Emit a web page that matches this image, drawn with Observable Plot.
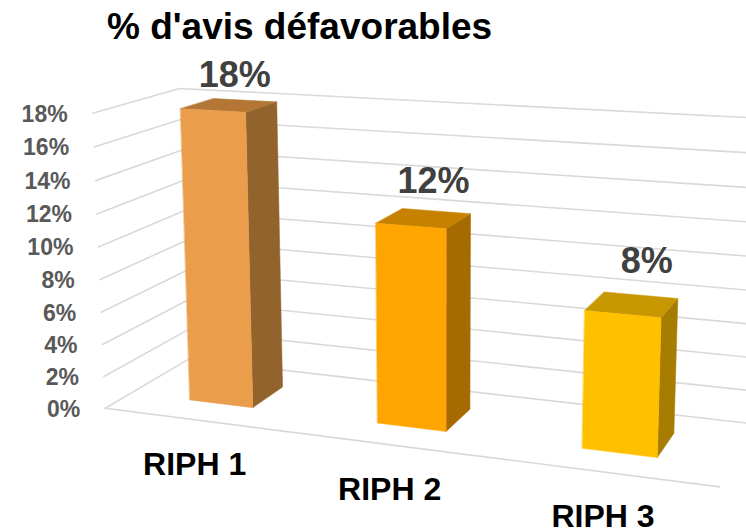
<!DOCTYPE html>
<html><head><meta charset="utf-8">
<script src="https://cdn.jsdelivr.net/npm/d3@7"></script>
<script src="https://cdn.jsdelivr.net/npm/@observablehq/plot@0.6"></script>
<style>
html,body{margin:0;padding:0;background:#fff;}
#title{font:bold 37px "Liberation Sans",Arial,sans-serif;height:50px;line-height:50px;padding:2px 0 0 107px;color:#000;white-space:nowrap;}
</style></head><body>
<div id="title">% d'avis défavorables</div>
<div id="chart"></div>
<script>
const categories = ["RIPH 1", "RIPH 2", "RIPH 3"];
const values = [0.18, 0.12, 0.08];
const valueLabels = ["18%", "12%", "8%"];
const tickValues = [0, 0.02, 0.04, 0.06, 0.08, 0.10, 0.12, 0.14, 0.16, 0.18];
const tickLabels = ["0%", "2%", "4%", "6%", "8%", "10%", "12%", "14%", "16%", "18%"];

// styles
const frontColors = ["#EA9D4A", "#FFA500", "#FFC000"];
const sideColors = ["#92632D", "#A56B00", "#A67D00"];
const topColors = ["#B47634", "#C78100", "#C79800"];

// layout: SVG size, bar depth within the floor, and the 3-D camera (perspective) matrix
const TOP = 52, W = 746, H = 480;
const Z_FRONT = 0.3, Z_BACK = 0.7;
const CAMERA = [
  174.3440, -0.8872336, 100.3666, 104.8160,
  5.635538, -16.62193, -15.67801, 407.7984,
  -0.04226542, -0.001996531, 0.09259411, 1
];

// world scales built by Plot: categories across the floor, values up the walls (in % units)
const xs = Plot.scale({x: {type: "band", domain: categories, range: [0, 3], paddingInner: 0.655, paddingOuter: 0.3275, align: 0.5}});
const ys = Plot.scale({y: {type: "linear", domain: [0, 0.18], range: [0, 18]}});
const bw = xs.bandwidth ?? 0.345;
const xMax = 3, zMax = 1;

function project(X, Y, Z) {
  const P = CAMERA;
  const w = P[8] * X + P[9] * Y + P[10] * Z + P[11];
  return [(P[0] * X + P[1] * Y + P[2] * Z + P[3]) / w, (P[4] * X + P[5] * Y + P[6] * Z + P[7]) / w - TOP];
}

// gridlines on the left wall and the back wall, plus the front edge of the floor
const grid = [];
tickValues.forEach((v, i) => {
  const y = ys.apply(v);
  for (const [X, Z] of [[0, 0], [0, zMax], [xMax, zMax]]) { const [px, py] = project(X, y, Z); grid.push({id: "g" + i, px, py}); }
});
[[0, 0], [xMax, 0]].forEach(([X, Z]) => { const [px, py] = project(X, 0, Z); grid.push({id: "floor", px, py}); });

// bar faces
const faces = {front: [], side: [], top: []};
categories.forEach((c, i) => {
  const x0 = xs.apply(c), x1 = x0 + bw, h = ys.apply(values[i]);
  const polys = {
    front: [[x0, 0, Z_FRONT], [x1, 0, Z_FRONT], [x1, h, Z_FRONT], [x0, h, Z_FRONT]],
    side: [[x1, 0, Z_FRONT], [x1, 0, Z_BACK], [x1, h, Z_BACK], [x1, h, Z_FRONT]],
    top: [[x0, h, Z_FRONT], [x1, h, Z_FRONT], [x1, h, Z_BACK], [x0, h, Z_BACK]]
  };
  const cols = {front: frontColors[i], side: sideColors[i], top: topColors[i]};
  for (const f in polys) for (const pt of polys[f]) {
    const [px, py] = project(...pt);
    faces[f].push({id: c + f, fill: cols[f], px, py});
  }
});

const tickPos = tickValues.map((v, i) => { const [px, py] = project(0, ys.apply(v), 0); return {px, py, label: tickLabels[i]}; });
const catPos = categories.map((c) => { const [px, py] = project(xs.apply(c) + bw / 2, 0, 0); return {px, py, label: c}; });
// data labels float above the bar top (label height in world units: 0.913·value + 3.76)
const valPos = categories.map((c, i) => { const [px, py] = project(xs.apply(c) + bw / 2, 0.913 * ys.apply(values[i]) + 3.76, Z_FRONT); return {px, py, label: valueLabels[i]}; });

const font = "'Liberation Sans', Arial, sans-serif";
const faceMark = (data) => Plot.line(data, {x: "px", y: "py", z: "id", fill: "fill", stroke: "fill", strokeWidth: 0.5, curve: "linear-closed"});

const chart = Plot.plot({
  width: W, height: H, margin: 0,
  x: {type: "identity", axis: null},
  y: {type: "identity", axis: null},
  color: {type: "identity"},
  style: {fontFamily: font, background: "#fff", overflow: "hidden"},
  marks: [
    Plot.line(grid, {x: "px", y: "py", z: "id", stroke: "#D9D9D9", strokeWidth: 1.6}),
    faceMark(faces.side), faceMark(faces.top), faceMark(faces.front),
    Plot.text(tickPos, {x: "px", y: "py", text: "label", textAnchor: "end", dx: -25, dy: 1, fontSize: 23, fontWeight: "bold", fill: "#595959"}),
    Plot.text(catPos, {x: "px", y: "py", text: "label", dx: -2, dy: 45, fontSize: 32, fontWeight: "bold", fill: "#000"}),
    Plot.text(valPos, {x: "px", y: "py", text: "label", dx: 23, dy: 2, fontSize: 36, fontWeight: "bold", fill: "#404040"})
  ]
});
document.getElementById("chart").appendChild(chart);
</script>
</body></html>
